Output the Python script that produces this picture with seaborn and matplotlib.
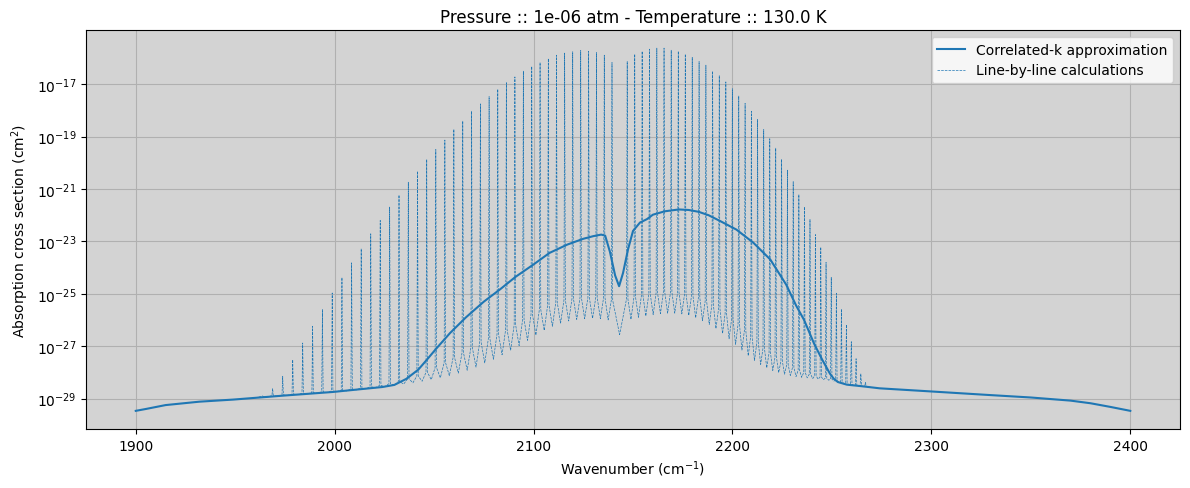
import numpy as np
import pandas as pd
import matplotlib
matplotlib.use("Agg")
import matplotlib.pyplot as plt
import seaborn as sns

# Correlated-k curve (wavenumber in cm-1, log10 of cross section)
ck_wn = [1900, 1905, 1915, 1932, 1949, 1974, 1999, 2024, 2030, 2036, 2042, 2046,
         2051, 2058, 2066, 2075, 2083, 2091, 2100, 2108, 2117, 2125, 2130, 2134,
         2136, 2138.4, 2141, 2143, 2145, 2147.5, 2150, 2153.5, 2157, 2160, 2166,
         2173, 2178, 2183, 2188, 2194, 2202, 2210.5, 2219, 2227, 2232, 2236, 2241,
         2245, 2249, 2251, 2253, 2257.5, 2265, 2274, 2300, 2330, 2350, 2370, 2380,
         2390, 2400]
ck_log = [-29.47, -29.40, -29.25, -29.12, -29.04, -28.89, -28.75, -28.56, -28.48,
          -28.25, -27.90, -27.55, -27.10, -26.50, -25.90, -25.30, -24.84, -24.35,
          -23.88, -23.44, -23.12, -22.90, -22.80, -22.74, -22.78, -23.40, -24.30,
          -24.71, -24.20, -23.30, -22.60, -22.28, -22.15, -21.98, -21.85, -21.78,
          -21.80, -21.87, -22.00, -22.23, -22.55, -23.05, -23.69, -24.65, -25.45,
          -26.00, -26.90, -27.50, -28.05, -28.25, -28.37, -28.47, -28.53, -28.61,
          -28.73, -28.87, -28.96, -29.08, -29.18, -29.32, -29.47]

# Line-by-line: line centres P(40)..P(1), R(0)..R(39)
line_wn = [1963.71, 1968.80, 1973.87, 1978.91, 1983.92, 1988.90, 1993.85, 1998.77,
           2003.66, 2008.52, 2013.34, 2018.14, 2022.91, 2027.65, 2032.35, 2037.02,
           2041.67, 2046.28, 2050.85, 2055.40, 2059.92, 2064.40, 2068.85, 2073.27,
           2077.65, 2082.00, 2086.32, 2090.61, 2094.86, 2099.08, 2103.27, 2107.42,
           2111.54, 2115.63, 2119.68, 2123.70, 2127.68, 2131.63, 2135.55, 2139.43,
           2147.08, 2150.86, 2154.60, 2158.30, 2161.97, 2165.60, 2169.20, 2172.76,
           2176.28, 2179.77, 2183.22, 2186.64, 2190.02, 2193.36, 2196.66, 2199.93,
           2203.16, 2206.35, 2209.51, 2212.63, 2215.71, 2218.75, 2221.75, 2224.72,
           2227.64, 2230.53, 2233.38, 2236.19, 2238.97, 2241.70, 2244.39, 2247.05,
           2249.66, 2252.24, 2254.78, 2257.28, 2259.74, 2262.15, 2264.53, 2266.87]
# peak value of each line (log10)
line_peak = [-28.90, -28.62, -28.15, -27.52, -26.88, -26.24, -25.60, -24.97,
             -24.38, -23.82, -23.28, -22.71, -22.20, -21.69, -21.23, -20.74,
             -20.32, -19.87, -19.49, -19.13, -18.72, -18.40, -18.03, -17.75,
             -17.47, -17.19, -16.94, -16.72, -16.50, -16.32, -16.17, -16.02,
             -15.89, -15.81, -15.76, -15.71, -15.74, -15.79, -15.89, -16.17,
             -16.13, -15.85, -15.74, -15.66, -15.62, -15.62, -15.70, -15.74,
             -15.85, -15.97, -16.13, -16.27, -16.50, -16.67, -16.91, -17.17,
             -17.45, -17.73, -18.03, -18.34, -18.73, -19.08, -19.44, -19.87,
             -20.28, -20.72, -21.21, -21.68, -22.16, -22.74, -23.22, -23.80,
             -24.37, -24.98, -25.58, -26.18, -26.83, -27.48, -28.05, -28.38]
# level where each spike leaves the wings (log10)
line_base = [-28.92, -28.89, -28.86, -28.83, -28.80, -28.77, -28.74, -28.71,
             -28.68, -28.64, -28.60, -28.55, -28.50, -28.43, -28.35, -28.25,
             -28.14, -28.00, -27.82, -27.63, -27.43, -27.25, -27.05, -26.85,
             -26.70, -26.53, -26.36, -26.18, -25.98, -25.78, -25.60, -25.44,
             -25.32, -25.24, -25.18, -25.15, -25.14, -25.14, -25.15, -25.25,
             -25.20, -25.10, -25.05, -25.00, -24.96, -24.94, -24.94, -24.95,
             -25.00, -25.07, -25.15, -25.27, -25.40, -25.57, -25.75, -25.95,
             -26.17, -26.40, -26.62, -26.85, -27.07, -27.25, -27.42, -27.57,
             -27.70, -27.82, -27.92, -28.00, -28.07, -28.13, -28.18, -28.22,
             -28.26, -28.31, -28.36, -28.41, -28.45, -28.48, -28.51, -28.53]
# minimum between neighbouring lines (log10)
gap_trough = [-28.94, -28.91, -28.88, -28.85, -28.82, -28.80, -28.77, -28.74,
              -28.71, -28.67, -28.63, -28.59, -28.55, -28.50, -28.45, -28.40,
              -28.34, -28.28, -28.21, -28.13, -28.03, -27.92, -27.80, -27.64,
              -27.50, -27.33, -27.16, -26.98, -26.78, -26.58, -26.40, -26.24,
              -26.12, -26.04, -25.98, -25.95, -25.94, -25.95, -26.00, -26.56,
              -25.98, -25.90, -25.85, -25.80, -25.76, -25.74, -25.74, -25.77,
              -25.83, -25.92, -26.03, -26.17, -26.33, -26.52, -26.72, -26.93,
              -27.15, -27.37, -27.55, -27.70, -27.83, -27.93, -28.01, -28.07,
              -28.12, -28.16, -28.19, -28.21, -28.24, -28.26, -28.28, -28.30,
              -28.33, -28.38, -28.44, -28.48, -28.51, -28.53, -28.55]
lbl_start = (1960.0, -28.97)
lbl_end = (2270.0, -28.58)


def build_lbl():
    half = 0.35
    xs, ys = [lbl_start[0]], [lbl_start[1]]
    for i, c in enumerate(line_wn):
        xs += [c - half, c, c + half]
        ys += [line_base[i], line_peak[i], line_base[i]]
        if i < len(gap_trough):
            xs.append((c + line_wn[i + 1]) / 2)
            ys.append(gap_trough[i])
    xs.append(lbl_end[0])
    ys.append(lbl_end[1])
    return pd.DataFrame({"wn": xs, "sigma": 10.0 ** np.array(ys)})


def main():
    ck = pd.DataFrame({"wn": ck_wn, "sigma": 10.0 ** np.array(ck_log)})
    lbl = build_lbl()

    fig, ax = plt.subplots(figsize=(11.9, 4.89), dpi=100)
    ax.set_facecolor("lightgray")

    sns.lineplot(data=ck, x="wn", y="sigma", color="C0", linewidth=1.5,
                 estimator=None, sort=False, label="Correlated-k approximation", ax=ax)
    sns.lineplot(data=lbl, x="wn", y="sigma", color="C0", linewidth=0.5,
                 linestyle="--", estimator=None, sort=False,
                 label="Line-by-line calculations", ax=ax)

    ax.set_yscale("log")
    ax.set_yticks([1e-29, 1e-27, 1e-25, 1e-23, 1e-21, 1e-19, 1e-17])
    ax.minorticks_off()
    ax.grid(True)
    ax.set_axisbelow(True)

    ax.set_title("Pressure :: 1e-06 atm - Temperature :: 130.0 K")
    ax.set_xlabel("Wavenumber (cm$^{-1}$)")
    ax.set_ylabel("Absorption cross section (cm$^{2}$)")
    ax.legend(loc="upper right")

    fig.subplots_adjust(left=0.0723, right=0.9916, top=0.9366, bottom=0.1207)
    fig.savefig("out.png")


if __name__ == "__main__":
    main()
